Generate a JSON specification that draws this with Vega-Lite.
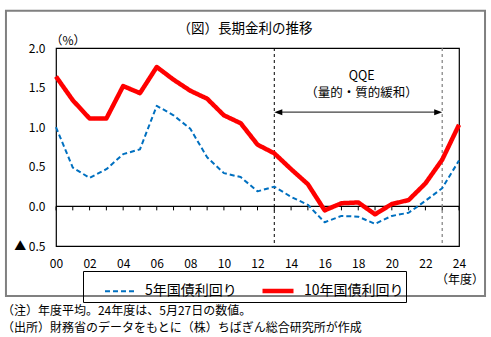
{
  "$schema": "https://vega.github.io/schema/vega-lite/v6.json",
  "width": 403,
  "height": 198,
  "autosize": {"type": "none"},
  "padding": {"left": 56, "top": 48, "right": 32, "bottom": 91},
  "background": "white",
  "config": {
    "font": "Noto Sans CJK JP",
    "view": {"stroke": "black", "strokeWidth": 1.2},
    "axis": {"grid": false, "labelColor": "black", "labelFontSize": 12, "titleColor": "black", "labelOverlap": false}
  },
  "datasets": {
    "one": [{}],
    "rates": [
      {"year": 0, "series": "5年国債利回り", "value": 1.00},
      {"year": 1, "series": "5年国債利回り", "value": 0.49},
      {"year": 2, "series": "5年国債利回り", "value": 0.36},
      {"year": 3, "series": "5年国債利回り", "value": 0.47},
      {"year": 4, "series": "5年国債利回り", "value": 0.66},
      {"year": 5, "series": "5年国債利回り", "value": 0.72},
      {"year": 6, "series": "5年国債利回り", "value": 1.27},
      {"year": 7, "series": "5年国債利回り", "value": 1.15},
      {"year": 8, "series": "5年国債利回り", "value": 0.98},
      {"year": 9, "series": "5年国債利回り", "value": 0.62},
      {"year": 10, "series": "5年国債利回り", "value": 0.42},
      {"year": 11, "series": "5年国債利回り", "value": 0.37},
      {"year": 12, "series": "5年国債利回り", "value": 0.19},
      {"year": 13, "series": "5年国債利回り", "value": 0.25},
      {"year": 14, "series": "5年国債利回り", "value": 0.12},
      {"year": 15, "series": "5年国債利回り", "value": 0.02},
      {"year": 16, "series": "5年国債利回り", "value": -0.20},
      {"year": 17, "series": "5年国債利回り", "value": -0.12},
      {"year": 18, "series": "5年国債利回り", "value": -0.13},
      {"year": 19, "series": "5年国債利回り", "value": -0.22},
      {"year": 20, "series": "5年国債利回り", "value": -0.12},
      {"year": 21, "series": "5年国債利回り", "value": -0.08},
      {"year": 22, "series": "5年国債利回り", "value": 0.07},
      {"year": 23, "series": "5年国債利回り", "value": 0.23},
      {"year": 24, "series": "5年国債利回り", "value": 0.58},
      {"year": 0, "series": "10年国債利回り", "value": 1.64},
      {"year": 1, "series": "10年国債利回り", "value": 1.34},
      {"year": 2, "series": "10年国債利回り", "value": 1.11},
      {"year": 3, "series": "10年国債利回り", "value": 1.11},
      {"year": 4, "series": "10年国債利回り", "value": 1.52},
      {"year": 5, "series": "10年国債利回り", "value": 1.43},
      {"year": 6, "series": "10年国債利回り", "value": 1.76},
      {"year": 7, "series": "10年国債利回り", "value": 1.60},
      {"year": 8, "series": "10年国債利回り", "value": 1.46},
      {"year": 9, "series": "10年国債利回り", "value": 1.36},
      {"year": 10, "series": "10年国債利回り", "value": 1.15},
      {"year": 11, "series": "10年国債利回り", "value": 1.05},
      {"year": 12, "series": "10年国債利回り", "value": 0.78},
      {"year": 13, "series": "10年国債利回り", "value": 0.67},
      {"year": 14, "series": "10年国債利回り", "value": 0.47},
      {"year": 15, "series": "10年国債利回り", "value": 0.28},
      {"year": 16, "series": "10年国債利回り", "value": -0.05},
      {"year": 17, "series": "10年国債利回り", "value": 0.04},
      {"year": 18, "series": "10年国債利回り", "value": 0.05},
      {"year": 19, "series": "10年国債利回り", "value": -0.10},
      {"year": 20, "series": "10年国債利回り", "value": 0.03},
      {"year": 21, "series": "10年国債利回り", "value": 0.08},
      {"year": 22, "series": "10年国債利回り", "value": 0.29},
      {"year": 23, "series": "10年国債利回り", "value": 0.59},
      {"year": 24, "series": "10年国債利回り", "value": 1.03}
    ]
  },
  "layer": [
    {
      "data": {"name": "one"},
      "mark": {"type": "rect", "fill": null, "stroke": "#808080", "strokeWidth": 2},
      "encoding": {
        "x": {
          "datum": -2.98, "type": "quantitative", "scale": {"domain": [0, 24], "nice": false, "zero": false},
          "axis": {"tickCount": 12, "format": "02d", "domain": false, "ticks": false, "labelPadding": 12, "title": null, "labelFlush": false, "labelOverlap": false, "labelBound": false}
        },
        "x2": {"datum": 25.55},
        "y": {
          "datum": 2.47, "type": "quantitative", "scale": {"domain": [-0.5, 2], "nice": false},
          "axis": {"tickCount": 5, "format": ".1f", "labelExpr": "datum.value < 0 ? '▲ ' + replace(datum.label, '−', '') : datum.label", "domain": false, "ticks": false, "labelPadding": 11, "title": null, "labelOverlap": false, "labelFlush": false, "labelBound": false}
        },
        "y2": {"datum": -1.13}
      }
    },
    {
      "data": {"name": "one"},
      "mark": {"type": "rule", "color": "black", "strokeWidth": 1.2},
      "encoding": {"y": {"datum": 0, "type": "quantitative"}}
    },
    {
      "data": {"name": "rates"},
      "transform": [{"filter": "datum.series === '5年国債利回り'"}],
      "mark": {"type": "rule", "color": "black", "strokeWidth": 1},
      "encoding": {
        "x": {"field": "year", "type": "quantitative"},
        "y": {"datum": 0, "type": "quantitative"},
        "y2": {"datum": -0.05}
      }
    },
    {
      "data": {"name": "one"},
      "mark": {"type": "rule", "color": "black", "strokeWidth": 1, "strokeDash": [3, 3]},
      "encoding": {"x": {"datum": 13, "type": "quantitative"}}
    },
    {
      "data": {"name": "one"},
      "mark": {"type": "rule", "color": "#7f7f7f", "strokeWidth": 1.2, "strokeDash": [3, 3]},
      "encoding": {"x": {"datum": 23, "type": "quantitative"}}
    },
    {
      "data": {"name": "one"},
      "mark": {"type": "rule", "color": "#404040", "strokeWidth": 1.2},
      "encoding": {
        "x": {"datum": 13.3, "type": "quantitative"},
        "x2": {"datum": 22.7},
        "y": {"datum": 1.19, "type": "quantitative"}
      }
    },
    {
      "data": {"name": "one"},
      "mark": {"type": "point", "shape": "M0,0L2,-0.75L2,0.75Z", "filled": true, "color": "black", "size": 64, "opacity": 1},
      "encoding": {
        "x": {"datum": 13, "type": "quantitative"},
        "y": {"datum": 1.19, "type": "quantitative"}
      }
    },
    {
      "data": {"name": "one"},
      "mark": {"type": "point", "shape": "M0,0L-2,-0.75L-2,0.75Z", "filled": true, "color": "black", "size": 64, "opacity": 1},
      "encoding": {
        "x": {"datum": 23, "type": "quantitative"},
        "y": {"datum": 1.19, "type": "quantitative"}
      }
    },
    {
      "data": {"name": "one"},
      "mark": {"type": "text", "fontSize": 13.5, "color": "black", "align": "center", "baseline": "middle"},
      "encoding": {
        "x": {"datum": 11.26, "type": "quantitative"},
        "y": {"datum": 2.24, "type": "quantitative"},
        "text": {"value": "（図）長期金利の推移"}
      }
    },
    {
      "data": {"name": "one"},
      "mark": {"type": "text", "fontSize": 12.5, "color": "black", "align": "center", "baseline": "middle"},
      "encoding": {
        "x": {"datum": 18.2, "type": "quantitative"},
        "y": {"datum": 1.65, "type": "quantitative"},
        "text": {"value": "QQE"}
      }
    },
    {
      "data": {"name": "one"},
      "mark": {"type": "text", "fontSize": 12.5, "color": "black", "align": "center", "baseline": "middle"},
      "encoding": {
        "x": {"datum": 18.2, "type": "quantitative"},
        "y": {"datum": 1.43, "type": "quantitative"},
        "text": {"value": "（量的・質的緩和）"}
      }
    },
    {
      "data": {"name": "one"},
      "mark": {"type": "text", "fontSize": 12, "color": "black", "align": "center", "baseline": "middle"},
      "encoding": {
        "x": {"datum": 0.71, "type": "quantitative"},
        "y": {"datum": 2.09, "type": "quantitative"},
        "text": {"value": "（%）"}
      }
    },
    {
      "data": {"name": "one"},
      "mark": {"type": "text", "fontSize": 12, "color": "black", "align": "center", "baseline": "middle"},
      "encoding": {
        "x": {"datum": 24.06, "type": "quantitative"},
        "y": {"datum": -0.925, "type": "quantitative"},
        "text": {"value": "（年度）"}
      }
    },
    {
      "data": {"name": "one"},
      "mark": {"type": "text", "fontSize": 12, "color": "black", "align": "left", "baseline": "middle"},
      "encoding": {
        "x": {"datum": -3.22, "type": "quantitative"},
        "y": {"datum": -1.317, "type": "quantitative"},
        "text": {"value": "（注）年度平均。24年度は、5月27日の数値。"}
      }
    },
    {
      "data": {"name": "one"},
      "mark": {"type": "text", "fontSize": 12, "color": "black", "align": "left", "baseline": "middle"},
      "encoding": {
        "x": {"datum": -3.22, "type": "quantitative"},
        "y": {"datum": -1.53, "type": "quantitative"},
        "text": {"value": "（出所）財務省のデータをもとに（株）ちばぎん総合研究所が作成"}
      }
    },
    {
      "data": {"name": "rates"},
      "mark": {"type": "line", "strokeJoin": "round"},
      "encoding": {
        "x": {"field": "year", "type": "quantitative"},
        "y": {"field": "value", "type": "quantitative"},
        "color": {
          "field": "series", "type": "nominal",
          "scale": {"domain": ["5年国債利回り", "10年国債利回り"], "range": ["#0070C0", "#FF0000"]},
          "legend": {
            "orient": "none", "legendX": 27, "legendY": 223, "direction": "horizontal", "title": null,
            "strokeColor": "black", "padding": 2, "symbolType": "stroke", "symbolSize": 961, "symbolOffset": 19,
            "labelFontSize": 14, "labelColor": "black", "columnPadding": 4, "labelOffset": 8
          }
        },
        "strokeDash": {
          "field": "series", "type": "nominal",
          "scale": {"domain": ["5年国債利回り", "10年国債利回り"], "range": [[5, 3], [1, 0]]}
        },
        "strokeWidth": {
          "field": "series", "type": "nominal",
          "scale": {"domain": ["5年国債利回り", "10年国債利回り"], "range": [2, 4.5]}
        }
      }
    }
  ]
}
